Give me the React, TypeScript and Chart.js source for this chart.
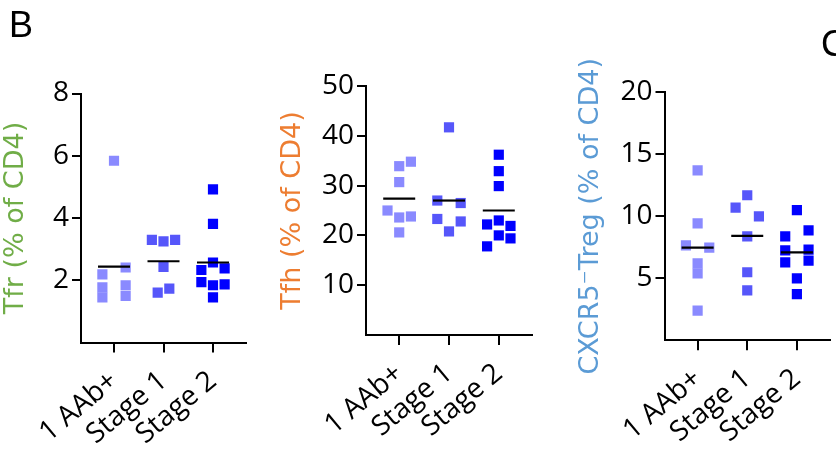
import React, { useEffect, useRef } from "react";
import { Chart, registerables } from "chart.js";

Chart.register(...registerables);

const W = 836;
const H = 463;
const CW = 920; // canvas width (clipped by the page container)
const TICK_FONT = "Open Sans";
const TITLE_FONT = "DejaVu Sans";

const categories = ["1 AAb+", "Stage 1", "Stage 2"];
const groupColors = ["rgb(138,138,255)", "rgb(86,86,250)", "rgb(0,0,255)"];

// Panel 1: Tfr (% of CD4)
const tfrAAb = [5.84, 2.19, 1.77, 1.45, 2.41, 1.84, 1.5];
const tfrAAbCol = [0, -1, -1, -1, 1, 1, 1];
const tfrS1 = [3.3, 3.25, 3.3, 2.43, 1.6, 1.73];
const tfrS1Col = [-1, 0, 1, 0, -0.5, 0.5];
const tfrS2 = [4.92, 3.81, 2.57, 2.33, 2.38, 1.94, 1.84, 1.87, 1.45];
const tfrS2Col = [0, 0, 0, -1, 1, -1, 0, 1, 0];
const tfrMeans = [2.44, 2.61, 2.57];
const tfrTicks = [2, 4, 6, 8];

// Panel 2: Tfh (% of CD4)
const tfhAAb = [34.8, 33.9, 30.7, 25.0, 23.6, 23.8, 20.6];
const tfhAAbCol = [1, 0, 0, -1, 0, 1, 0];
const tfhS1 = [41.7, 27.0, 26.5, 23.3, 22.8, 20.8];
const tfhS1Col = [0, -1, 1, -1, 1, 0];
const tfhS2 = [36.2, 32.9, 29.9, 22.2, 23.0, 21.9, 20.0, 19.4, 17.8];
const tfhS2Col = [0, 0, 0, -1, 0, 1, 0, 1, -1];
const tfhMeans = [27.4, 27.0, 25.0];
const tfhTicks = [10, 20, 30, 40, 50];

// Panel 3: CXCR5-Treg (% of CD4)
const tregAAb = [13.7, 9.43, 7.65, 7.47, 6.2, 5.4, 2.4];
const tregAAbCol = [0, 0, -1, 1, 0, 0, 0];
const tregS1 = [11.7, 10.7, 10.0, 8.38, 5.49, 4.02];
const tregS1Col = [0, -1, 1, 0, 0, 0];
const tregS2 = [10.5, 8.38, 8.87, 7.25, 7.31, 6.28, 6.42, 4.99, 3.73];
const tregS2Col = [0, -1, 1, -1, 1, -1, 1, 0, 0];
const tregMeans = [7.47, 8.42, 7.09];
const tregTicks = [5, 10, 15, 20];

type Panel = {
  title: string;
  titleColor: string;
  groups: number[][];
  cols: number[][];
  means: number[];
  yTicks: number[];
  yMax: number;
  titleX: number;
  left: number;
  right: number;
  top: number;
  bottom: number;
};

const panels: Panel[] = [
  {
    title: "Tfr (% of CD4)",
    titleColor: "#70AD47",
    groups: [tfrAAb, tfrS1, tfrS2],
    cols: [tfrAAbCol, tfrS1Col, tfrS2Col],
    means: tfrMeans,
    yTicks: tfrTicks,
    yMax: 8,
    titleX: 16,
    left: 81,
    right: 246,
    top: 93.5,
    bottom: 342.5,
  },
  {
    title: "Tfh (% of CD4)",
    titleColor: "#ED7D31",
    groups: [tfhAAb, tfhS1, tfhS2],
    cols: [tfhAAbCol, tfhS1Col, tfhS2Col],
    means: tfhMeans,
    yTicks: tfhTicks,
    yMax: 50,
    titleX: 293,
    left: 366,
    right: 532,
    top: 86,
    bottom: 335,
  },
  {
    title: "CXCR5\u207BTreg (% of CD4)",
    titleColor: "#5B9BD5",
    groups: [tregAAb, tregS1, tregS2],
    cols: [tregAAbCol, tregS1Col, tregS2Col],
    means: tregMeans,
    yTicks: tregTicks,
    yMax: 20,
    titleX: 591,
    left: 664.5,
    right: 830,
    top: 92.3,
    bottom: 340.3,
  },
];

const COL_STEP = 0.235;
const X_PAD = 0.667;
const TITLE_SIZE = 27;

function buildConfig(p: Panel): any {
  const datasets: any[] = p.groups.map((vals, g) => ({
    label: categories[g],
    data: vals.map((v, i) => ({ x: g + p.cols[g][i] * COL_STEP, y: v })),
    pointStyle: "rect",
    pointRadius: 7.2,
    pointBorderWidth: 0,
    backgroundColor: groupColors[g],
    borderColor: groupColors[g],
    order: 2,
  }));
  datasets.push({
    label: "mean",
    data: p.means.map((m, g) => ({ x: g, y: m })),
    pointStyle: "line",
    pointRadius: 16,
    pointBorderWidth: 2.2,
    borderColor: "#000",
    backgroundColor: "#000",
    order: 1,
  });
  const padLeft = p.titleX - TITLE_SIZE / 2;
  return {
    type: "scatter",
    data: { datasets },
    options: {
      animation: false,
      responsive: false,
      devicePixelRatio: 1,
      events: [],
      layout: {
        padding: { left: padLeft, top: p.top, right: CW - p.right, bottom: 0 },
      },
      plugins: { legend: { display: false }, tooltip: { enabled: false } },
      scales: {
        x: {
          type: "linear",
          min: -X_PAD,
          max: 2 + X_PAD,
          afterBuildTicks: (s: any) => {
            s.ticks = [0, 1, 2].map((v) => ({ value: v }));
          },
          afterFit: (s: any) => {
            s.height = H - p.bottom;
          },
          grid: {
            drawOnChartArea: false,
            drawTicks: true,
            tickLength: 10,
            color: "#000",
            lineWidth: 2,
          },
          border: { display: true, color: "#000", width: 2 },
          ticks: {
            minRotation: 40,
            maxRotation: 40,
            color: "#000",
            padding: 12,
            font: { family: TICK_FONT, size: 28 },
            callback: (v: any) => categories[v] ?? "",
          },
        },
        y: {
          type: "linear",
          min: 0,
          max: p.yMax,
          afterBuildTicks: (s: any) => {
            s.ticks = p.yTicks.map((v) => ({ value: v }));
          },
          afterFit: (s: any) => {
            s.width = p.left - padLeft;
          },
          grid: {
            drawOnChartArea: false,
            drawTicks: true,
            tickLength: 9,
            color: "#000",
            lineWidth: 2,
          },
          border: { display: true, color: "#000", width: 2 },
          ticks: {
            color: "#000",
            padding: 3,
            font: { family: TICK_FONT, size: 28 },
          },
          title: {
            display: true,
            text: p.title,
            color: p.titleColor,
            padding: 0,
            font: { family: TITLE_FONT, size: TITLE_SIZE, lineHeight: 1 },
          },
        },
      },
    },
  };
}

function PanelCanvas({ panel }: { panel: Panel }) {
  const ref = useRef<HTMLCanvasElement | null>(null);
  useEffect(() => {
    if (!ref.current) return;
    const chart = new Chart(ref.current, buildConfig(panel));
    return () => chart.destroy();
  }, [panel]);
  return (
    <canvas
      ref={ref}
      width={CW}
      height={H}
      style={{ position: "absolute", left: 0, top: 0, width: CW, height: H }}
    />
  );
}

export default function App() {
  return (
    <div
      style={{
        position: "absolute",
        left: 0,
        top: 0,
        width: W,
        height: H,
        background: "#fff",
        overflow: "hidden",
      }}
    >
      {panels.map((p, i) => (
        <PanelCanvas key={i} panel={p} />
      ))}
      <div
        style={{
          position: "absolute",
          left: 9,
          top: 5,
          fontFamily: "Liberation Sans, Arial, sans-serif",
          fontSize: 36,
          lineHeight: "40px",
          color: "#000",
        }}
      >
        B
      </div>
      <div
        style={{
          position: "absolute",
          left: 821,
          top: 24,
          fontFamily: "Liberation Sans, Arial, sans-serif",
          fontSize: 36,
          lineHeight: "40px",
          color: "#000",
        }}
      >
        C
      </div>
    </div>
  );
}
